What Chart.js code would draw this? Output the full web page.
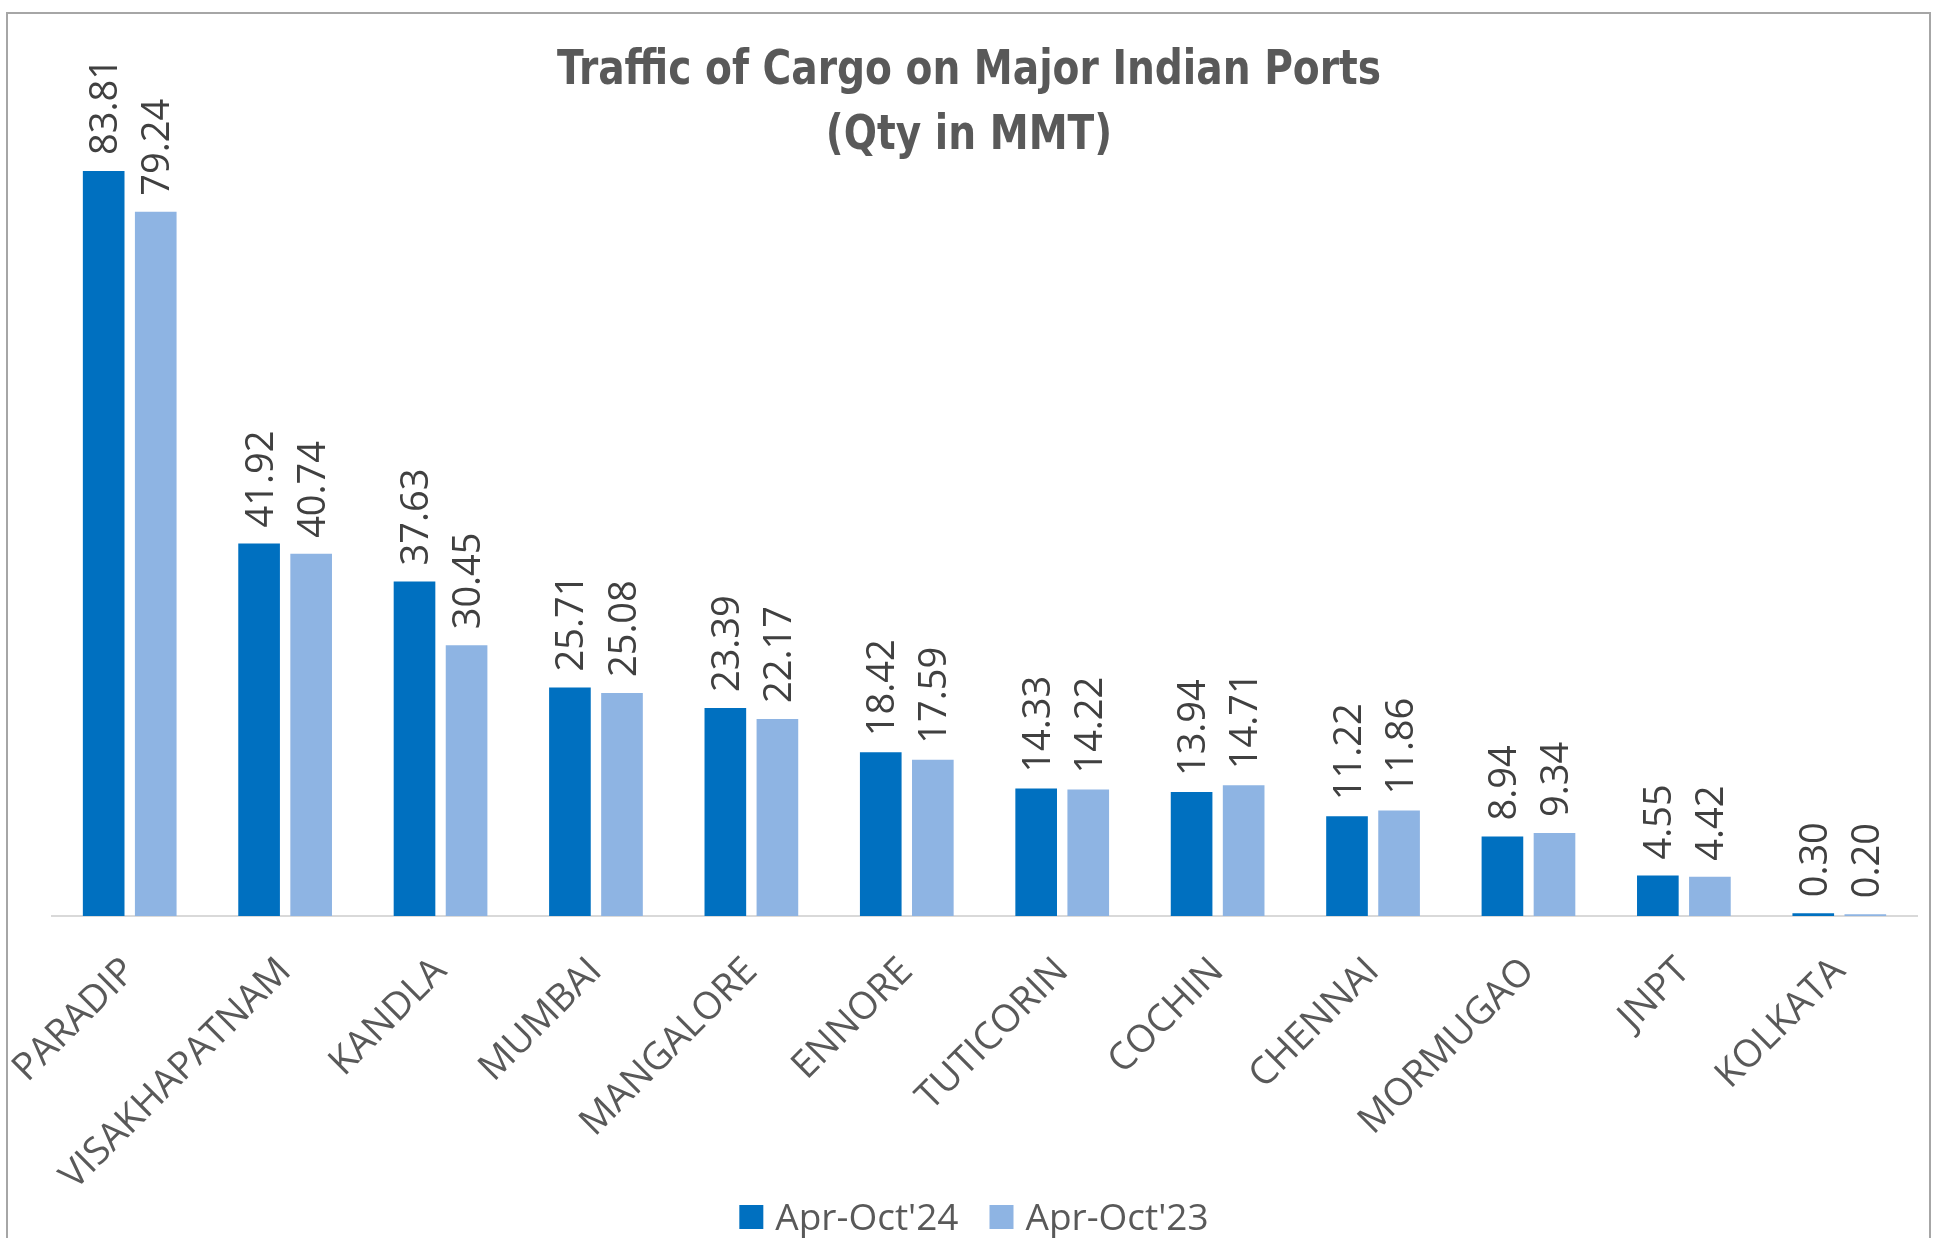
<!DOCTYPE html>
<html>
<head>
<meta charset="utf-8">
<script src="https://cdn.jsdelivr.net/npm/chart.js@4.4.0/dist/chart.umd.min.js"></script>
<style>
  html, body { margin: 0; padding: 0; background: #fff; overflow: hidden; }
</style>
</head>
<body>
<canvas id="cargoChart" width="1942" height="1238"></canvas>
<script>
const ports = ['PARADIP', 'VISAKHAPATNAM', 'KANDLA', 'MUMBAI', 'MANGALORE', 'ENNORE',
  'TUTICORIN', 'COCHIN', 'CHENNAI', 'MORMUGAO', 'JNPT', 'KOLKATA'];
const aprOct24 = [83.81, 41.92, 37.63, 25.71, 23.39, 18.42, 14.33, 13.94, 11.22, 8.94, 4.55, 0.30];
const aprOct23 = [79.24, 40.74, 30.45, 25.08, 22.17, 17.59, 14.22, 14.71, 11.86, 9.34, 4.42, 0.20];
const seriesNames = ["Apr-Oct'24", "Apr-Oct'23"];
const titleLines = ['Traffic of Cargo on Major Indian Ports', '(Qty in MMT)'];

const labelFont = "'Open Sans', 'DejaVu Sans', sans-serif";

// title, legend and outer frame, drawn by hand so the plot area can start high
const frameAndTitle = {
  id: 'frameAndTitle',
  afterDraw(chart) {
    const ctx = chart.ctx;
    ctx.save();
    ctx.strokeStyle = '#a6a6a6';
    ctx.lineWidth = 2;
    ctx.strokeRect(7, 13, 1923, 1300);

    // title
    ctx.save();
    ctx.fillStyle = '#595959';
    ctx.font = "bold 48px 'Liberation Sans Narrow', 'DejaVu Sans Condensed', 'Roboto', sans-serif";
    ctx.textAlign = 'center';
    ctx.textBaseline = 'middle';
    const sx = 824 / ctx.measureText(titleLines[0]).width; // squeeze to the narrow original
    ctx.translate(969, 0);
    ctx.scale(sx, 1);
    ctx.fillText(titleLines[0], 0, 72);
    ctx.fillText(titleLines[1], 0, 137);
    ctx.restore();

    // legend
    const fs = 37, box = 24, gap = 12, itemGap = 31, cy = 1217;
    ctx.font = fs + 'px ' + labelFont;
    ctx.textAlign = 'left';
    ctx.textBaseline = 'alphabetic';
    const ds = chart.data.datasets;
    const widths = ds.map(d => ctx.measureText(d.label).width);
    let total = 0;
    widths.forEach((w, i) => { total += box + gap + w + (i ? itemGap : 0); });
    let x = 974 - total / 2;
    ds.forEach((d, i) => {
      ctx.fillStyle = d.backgroundColor;
      ctx.fillRect(x, cy - box / 2, box, box);
      ctx.fillStyle = '#595959';
      ctx.fillText(d.label, x + box + gap, cy + fs * 0.357);
      x += box + gap + widths[i] + itemGap;
    });
    ctx.restore();
  }
};

// vertical value labels above each bar
const barValues = {
  id: 'barValues',
  afterDatasetsDraw(chart) {
    const ctx = chart.ctx;
    const fs = 38;
    ctx.save();
    ctx.fillStyle = '#404040';
    ctx.font = fs + 'px ' + labelFont;
    ctx.textAlign = 'left';
    ctx.textBaseline = 'alphabetic';
    chart.data.datasets.forEach((ds, i) => {
      chart.getDatasetMeta(i).data.forEach((bar, j) => {
        ctx.save();
        ctx.translate(bar.x + fs * 0.357, bar.y - 16);
        ctx.rotate(-Math.PI / 2);
        ctx.fillText(ds.data[j].toFixed(2), 0, 0);
        ctx.restore();
      });
    });
    ctx.restore();
  }
};

new Chart(document.getElementById('cargoChart'), {
  type: 'bar',
  data: {
    labels: ports,
    datasets: [
      { label: seriesNames[0], data: aprOct24, backgroundColor: '#0070C0' },
      { label: seriesNames[1], data: aprOct23, backgroundColor: '#8EB4E3' }
    ]
  },
  options: {
    responsive: false,
    animation: false,
    categoryPercentage: 0.67,
    barPercentage: 0.8,
    layout: { padding: { left: 52, right: 25, top: 116, bottom: 52 } },
    plugins: {
      title: { display: false },
      tooltip: { enabled: false },
      legend: { display: false }
    },
    scales: {
      x: {
        grid: { display: false, drawTicks: false },
        border: { display: true, color: '#d9d9d9', width: 2 },
        ticks: {
          autoSkip: false,
          minRotation: 45,
          maxRotation: 45,
          padding: 33,
          color: '#595959',
          font: { family: labelFont, size: 38 }
        },
        afterFit(axis) {
          axis.height = 270;
          axis.paddingLeft = 0;
          axis.paddingRight = 0;
        }
      },
      y: {
        display: false,
        min: 0,
        max: 90
      }
    }
  },
  plugins: [frameAndTitle, barValues]
});
</script>
</body>
</html>
